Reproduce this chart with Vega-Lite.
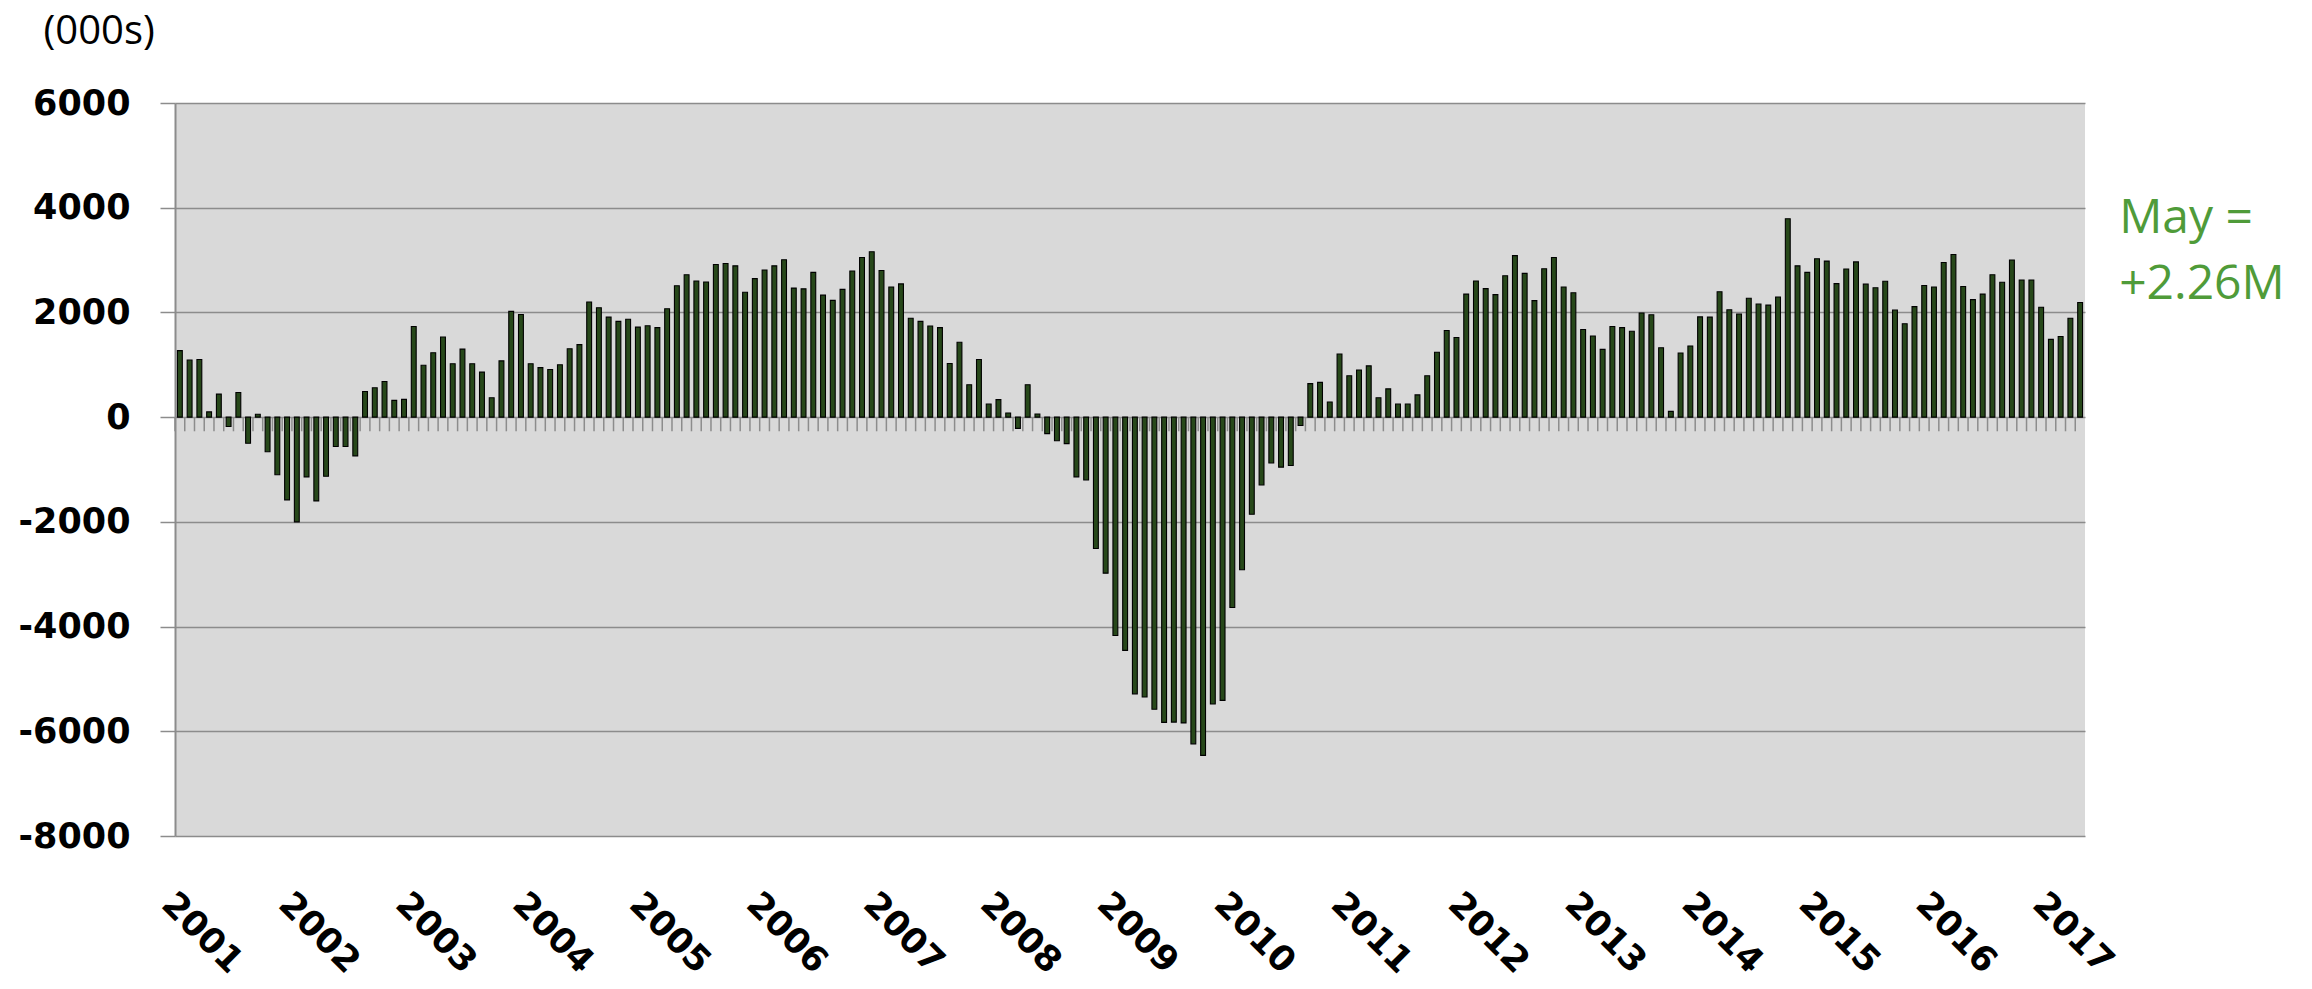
{
  "$schema": "https://vega.github.io/schema/vega-lite/v6.json",
  "width": 1910,
  "height": 733,
  "autosize": {"type": "none"},
  "padding": {"left": 175, "top": 103, "right": 227, "bottom": 153},
  "background": "#ffffff",
  "config": {"view": {"fill": "#d9d9d9", "stroke": null}, "font": "Open Sans"},
  "datasets": {
    "jobs": [
      {"m":"2001-02","v":1270},{"m":"2001-03","v":1090},{"m":"2001-04","v":1100},{"m":"2001-05","v":100},{"m":"2001-06","v":440},{"m":"2001-07","v":-180},{"m":"2001-08","v":470},{"m":"2001-09","v":-500},{"m":"2001-10","v":55},{"m":"2001-11","v":-660},{"m":"2001-12","v":-1100},
      {"m":"2002-01","v":-1580},{"m":"2002-02","v":-2000},{"m":"2002-03","v":-1140},{"m":"2002-04","v":-1600},{"m":"2002-05","v":-1130},{"m":"2002-06","v":-560},{"m":"2002-07","v":-560},{"m":"2002-08","v":-740},{"m":"2002-09","v":490},{"m":"2002-10","v":560},{"m":"2002-11","v":680},{"m":"2002-12","v":320},
      {"m":"2003-01","v":340},{"m":"2003-02","v":1730},{"m":"2003-03","v":990},{"m":"2003-04","v":1230},{"m":"2003-05","v":1530},{"m":"2003-06","v":1020},{"m":"2003-07","v":1300},{"m":"2003-08","v":1020},{"m":"2003-09","v":860},{"m":"2003-10","v":370},{"m":"2003-11","v":1075},{"m":"2003-12","v":2020},
      {"m":"2004-01","v":1960},{"m":"2004-02","v":1020},{"m":"2004-03","v":945},{"m":"2004-04","v":910},{"m":"2004-05","v":1000},{"m":"2004-06","v":1305},{"m":"2004-07","v":1385},{"m":"2004-08","v":2200},{"m":"2004-09","v":2090},{"m":"2004-10","v":1910},{"m":"2004-11","v":1830},{"m":"2004-12","v":1870},
      {"m":"2005-01","v":1720},{"m":"2005-02","v":1745},{"m":"2005-03","v":1710},{"m":"2005-04","v":2070},{"m":"2005-05","v":2510},{"m":"2005-06","v":2720},{"m":"2005-07","v":2600},{"m":"2005-08","v":2580},{"m":"2005-09","v":2915},{"m":"2005-10","v":2935},{"m":"2005-11","v":2890},{"m":"2005-12","v":2385},
      {"m":"2006-01","v":2645},{"m":"2006-02","v":2810},{"m":"2006-03","v":2890},{"m":"2006-04","v":3005},{"m":"2006-05","v":2465},{"m":"2006-06","v":2450},{"m":"2006-07","v":2765},{"m":"2006-08","v":2330},{"m":"2006-09","v":2230},{"m":"2006-10","v":2440},{"m":"2006-11","v":2790},{"m":"2006-12","v":3050},
      {"m":"2007-01","v":3160},{"m":"2007-02","v":2800},{"m":"2007-03","v":2485},{"m":"2007-04","v":2545},{"m":"2007-05","v":1890},{"m":"2007-06","v":1830},{"m":"2007-07","v":1740},{"m":"2007-08","v":1710},{"m":"2007-09","v":1025},{"m":"2007-10","v":1430},{"m":"2007-11","v":620},{"m":"2007-12","v":1100},
      {"m":"2008-01","v":250},{"m":"2008-02","v":335},{"m":"2008-03","v":80},{"m":"2008-04","v":-215},{"m":"2008-05","v":620},{"m":"2008-06","v":60},{"m":"2008-07","v":-315},{"m":"2008-08","v":-450},{"m":"2008-09","v":-505},{"m":"2008-10","v":-1140},{"m":"2008-11","v":-1200},{"m":"2008-12","v":-2510},
      {"m":"2009-01","v":-2980},{"m":"2009-02","v":-4170},{"m":"2009-03","v":-4455},{"m":"2009-04","v":-5285},{"m":"2009-05","v":-5345},{"m":"2009-06","v":-5580},{"m":"2009-07","v":-5830},{"m":"2009-08","v":-5825},{"m":"2009-09","v":-5840},{"m":"2009-10","v":-6240},{"m":"2009-11","v":-6460},{"m":"2009-12","v":-5480},
      {"m":"2010-01","v":-5410},{"m":"2010-02","v":-3635},{"m":"2010-03","v":-2915},{"m":"2010-04","v":-1855},{"m":"2010-05","v":-1295},{"m":"2010-06","v":-875},{"m":"2010-07","v":-955},{"m":"2010-08","v":-925},{"m":"2010-09","v":-160},{"m":"2010-10","v":640},{"m":"2010-11","v":665},{"m":"2010-12","v":290},
      {"m":"2011-01","v":1205},{"m":"2011-02","v":790},{"m":"2011-03","v":900},{"m":"2011-04","v":980},{"m":"2011-05","v":370},{"m":"2011-06","v":540},{"m":"2011-07","v":250},{"m":"2011-08","v":250},{"m":"2011-09","v":425},{"m":"2011-10","v":790},{"m":"2011-11","v":1240},{"m":"2011-12","v":1655},
      {"m":"2012-01","v":1520},{"m":"2012-02","v":2350},{"m":"2012-03","v":2600},{"m":"2012-04","v":2455},{"m":"2012-05","v":2340},{"m":"2012-06","v":2700},{"m":"2012-07","v":3085},{"m":"2012-08","v":2745},{"m":"2012-09","v":2225},{"m":"2012-10","v":2835},{"m":"2012-11","v":3050},{"m":"2012-12","v":2485},
      {"m":"2013-01","v":2375},{"m":"2013-02","v":1675},{"m":"2013-03","v":1550},{"m":"2013-04","v":1295},{"m":"2013-05","v":1730},{"m":"2013-06","v":1710},{"m":"2013-07","v":1640},{"m":"2013-08","v":1990},{"m":"2013-09","v":1955},{"m":"2013-10","v":1325},{"m":"2013-11","v":110},{"m":"2013-12","v":1225},
      {"m":"2014-01","v":1360},{"m":"2014-02","v":1915},{"m":"2014-03","v":1910},{"m":"2014-04","v":2395},{"m":"2014-05","v":2050},{"m":"2014-06","v":1970},{"m":"2014-07","v":2270},{"m":"2014-08","v":2160},{"m":"2014-09","v":2140},{"m":"2014-10","v":2295},{"m":"2014-11","v":3790},{"m":"2014-12","v":2890},
      {"m":"2015-01","v":2765},{"m":"2015-02","v":3025},{"m":"2015-03","v":2980},{"m":"2015-04","v":2550},{"m":"2015-05","v":2830},{"m":"2015-06","v":2965},{"m":"2015-07","v":2540},{"m":"2015-08","v":2470},{"m":"2015-09","v":2595},{"m":"2015-10","v":2045},{"m":"2015-11","v":1785},{"m":"2015-12","v":2110},
      {"m":"2016-01","v":2515},{"m":"2016-02","v":2485},{"m":"2016-03","v":2955},{"m":"2016-04","v":3105},{"m":"2016-05","v":2495},{"m":"2016-06","v":2245},{"m":"2016-07","v":2350},{"m":"2016-08","v":2720},{"m":"2016-09","v":2575},{"m":"2016-10","v":3000},{"m":"2016-11","v":2620},{"m":"2016-12","v":2620},
      {"m":"2017-01","v":2100},{"m":"2017-02","v":1485},{"m":"2017-03","v":1540},{"m":"2017-04","v":1890},{"m":"2017-05","v":2190}
    ]
  },
  "layer": [
    {
      "data": {"name": "jobs"},
      "mark": {"type": "rule", "color": "#8c8c8c", "strokeWidth": 1.5},
      "encoding": {
        "x": {"field": "m", "type": "ordinal", "bandPosition": 0, "scale": {"paddingInner": 0, "paddingOuter": 0}, "axis": null},
        "y": {"datum": 0, "type": "quantitative"},
        "y2": {"datum": -270}
      }
    },
    {
      "layer": [
        {
          "data": {"name": "jobs"},
          "mark": {"type": "bar", "fill": "#27481a", "stroke": "#000000", "strokeWidth": 1.1},
          "encoding": {
            "x": {
              "field": "m", "type": "ordinal",
              "scale": {"paddingInner": 0.5, "paddingOuter": 0.25},
              "axis": {
                "values": ["2001-02","2002-02","2003-02","2004-02","2005-02","2006-02","2007-02","2008-02","2009-02","2010-02","2011-02","2012-02","2013-02","2014-02","2015-02","2016-02","2017-02"],
                "labelExpr": "slice(datum.value, 0, 4)",
                "labelAngle": 45, "labelAlign": "left", "labelBaseline": "top",
                "labelFont": "DejaVu Sans", "labelFontSize": 35, "labelFontWeight": "bold", "labelColor": "#000000",
                "labelPadding": 50, "ticks": false, "domain": false, "grid": false, "title": null
              }
            },
            "y": {
              "field": "v", "type": "quantitative",
              "scale": {"domain": [-8000, 6000], "nice": false},
              "axis": {
                "values": [-8000, -6000, -4000, -2000, 0, 2000, 4000, 6000],
                "labelExpr": "datum.value + ''",
                "grid": true, "gridColor": "#8c8c8c", "gridWidth": 1.5,
                "domainColor": "#8c8c8c", "domainWidth": 2,
                "tickColor": "#8c8c8c", "tickSize": 15, "tickWidth": 1.5,
                "labelFont": "DejaVu Sans", "labelFontSize": 35, "labelFontWeight": "bold", "labelColor": "#000000", "labelPadding": 30,
                "title": "(000s)", "titleAngle": 0, "titleAlign": "left", "titleBaseline": "middle",
                "titleX": -132, "titleY": -72, "titleFontSize": 40, "titleFontWeight": "normal", "titleColor": "#000000"
              }
            }
          }
        },
        {
          "data": {"values": [{}]},
          "mark": {"type": "text", "text": ["May =", "+2.26M"], "color": "#4f9b39", "fontSize": 48, "align": "left", "baseline": "middle", "dx": 39, "lineHeight": 66},
          "encoding": {
            "x": {"datum": "2017-05", "type": "ordinal"},
            "y": {"datum": 3790, "type": "quantitative"}
          }
        }
      ]
    }
  ],
  "resolve": {"scale": {"x": "independent"}}
}
